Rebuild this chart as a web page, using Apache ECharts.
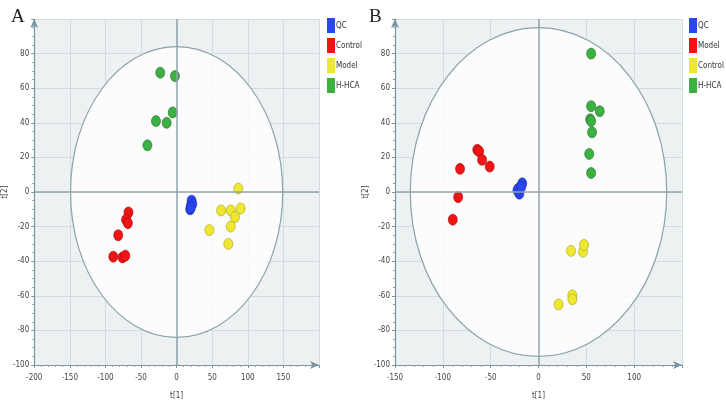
<!DOCTYPE html>
<html>
<head>
<meta charset="utf-8">
<script src="https://cdn.jsdelivr.net/npm/echarts@6/dist/echarts.min.js"></script>
<style>
  html, body { margin: 0; padding: 0; background: #fff; }
  #main { width: 726px; height: 406px; }
</style>
</head>
<body>
<div id="main"></div>
<script>
// panel A scores [t1, t2]
const qcA = [[21, -5], [20, -8], [19, -10], [22, -7], [20, -9]]
const controlA = [[-67.6, -11.8], [-71, -16], [-68.5, -18], [-82, -25], [-89, -37.4], [-76, -37.8], [-72, -36.8]]
const modelA = [[86.6, 2], [62.5, -10.7], [76, -10.7], [90, -9.5], [82, -14.5], [76, -20], [46, -22], [72.6, -30]]
const hhcaA = [[-23, 69], [-2.3, 67], [-5.5, 46], [-29, 41], [-14, 40], [-41, 27]]
// panel B scores [t1, t2]
const qcB = [[-21, 2], [-17, 5], [-20, -1], [-22, 1], [-18, 3]]
const modelB = [[-64, 24.4], [-62, 23.5], [-59, 18.6], [-51, 14.7], [-82, 13.4], [-84, -3], [-89.6, -16]]
const controlB = [[34, -34], [46.5, -34.5], [47.6, -30.6], [35.4, -59.7], [35.4, -62], [21, -65]]
const hhcaB = [[55, 80], [55, 49.6], [64, 46.7], [54, 42], [55, 41], [56, 34.5], [53, 22], [55, 11]]
// Hotelling T2 ellipse half-axes [t1, t2]
const ellipseA = [149, 84]
const ellipseB = [134, 95]

const legendA = ['QC', 'Control', 'Model', 'H-HCA']
const legendB = ['QC', 'Model', 'Control', 'H-HCA']

const colors = {
  blue: ['#2a45f0', '#1a2aa0'],
  red: ['#f01414', '#a00a0a'],
  yellow: ['#eee830', '#a8a020'],
  green: ['#3cb043', '#1f6e25']
}

const font = "'Liberation Sans Narrow', 'DejaVu Sans Condensed', 'Liberation Sans', sans-serif"

const chart = echarts.init(document.getElementById('main'))

function xAxis(idx, min, max) {
  return {
    gridIndex: idx,
    type: 'value',
    min: min,
    max: max,
    interval: 50,
    name: 't[1]',
    nameLocation: 'middle',
    nameGap: 27,
    nameTextStyle: { fontSize: 8, color: '#444', fontFamily: font },
    axisLine: {
      onZero: false,
      symbol: ['none', 'arrow'],
      symbolSize: [6, 9],
      lineStyle: { color: '#7a94a0', width: 1.2 }
    },
    axisTick: { show: true, length: 3, lineStyle: { color: '#7a94a0' } },
    minorTick: { show: true, splitNumber: 5, length: 2, lineStyle: { color: '#8aa0aa' } },
    axisLabel: { fontSize: 8, color: '#444', fontFamily: font, margin: 9, showMaxLabel: false },
    splitLine: { show: true, lineStyle: { color: '#d3dcde' } }
  }
}

function yAxis(idx) {
  return {
    gridIndex: idx,
    type: 'value',
    min: -100,
    max: 100,
    interval: 20,
    name: 't[2]',
    nameLocation: 'middle',
    nameGap: 22,
    nameRotate: 90,
    nameTextStyle: { fontSize: 8, color: '#444', fontFamily: font },
    axisLine: {
      onZero: false,
      symbol: ['none', 'arrow'],
      symbolSize: [6, 9],
      lineStyle: { color: '#7a94a0', width: 1.2 }
    },
    axisTick: { show: true, length: 3, lineStyle: { color: '#7a94a0' } },
    minorTick: { show: true, splitNumber: 4, length: 2, lineStyle: { color: '#8aa0aa' } },
    axisLabel: { fontSize: 8, color: '#444', fontFamily: font, margin: 5, showMaxLabel: false },
    splitLine: { show: true, lineStyle: { color: '#d3dcde' } }
  }
}

function ellipseSeries(idx, radii) {
  return {
    type: 'custom',
    xAxisIndex: idx,
    yAxisIndex: idx,
    z: 1,
    silent: true,
    data: [[0, 0]],
    renderItem: function (params, api) {
      const c = api.coord([0, 0])
      const s = api.size([radii[0], radii[1]])
      return {
        type: 'ellipse',
        shape: { cx: c[0], cy: c[1], rx: s[0], ry: s[1] },
        style: { fill: 'rgba(255,255,255,0.8)', stroke: '#8aa3aa', lineWidth: 1.2 }
      }
    },
    markLine: {
      silent: true,
      symbol: 'none',
      label: { show: false },
      lineStyle: { color: '#8fa5ab', width: 1.5, type: 'solid' },
      data: [{ xAxis: 0 }, { yAxis: 0 }]
    }
  }
}

function scatter(idx, name, data, c) {
  return {
    type: 'scatter',
    name: name,
    xAxisIndex: idx,
    yAxisIndex: idx,
    z: 3,
    data: data,
    symbol: 'circle',
    symbolSize: [9, 11],
    itemStyle: { color: c[0], borderColor: c[1], borderWidth: 0.6, opacity: 1 }
  }
}

function legend(left, names, cols) {
  return {
    orient: 'vertical',
    left: left,
    top: 13,
    icon: 'rect',
    itemWidth: 8,
    itemHeight: 15,
    itemGap: 5,
    selectedMode: false,
    textStyle: { fontSize: 8, color: '#333', fontFamily: font, padding: [0, 0, 0, -4] },
    data: names.map((n, i) => ({ name: n, itemStyle: { color: cols[i][0], borderWidth: 0 } }))
  }
}

const option = {
  animation: false,
  textStyle: { fontFamily: font },
  title: [
    { text: 'A', left: 6, top: 3, textStyle: { fontFamily: 'Liberation Serif, serif', fontSize: 19, fontWeight: 'normal', color: '#222' } },
    { text: 'B', left: 364, top: 3, textStyle: { fontFamily: 'Liberation Serif, serif', fontSize: 19, fontWeight: 'normal', color: '#222' } }
  ],
  legend: [
    legend(322, legendA, [colors.blue, colors.red, colors.yellow, colors.green]),
    legend(684, legendB, [colors.blue, colors.red, colors.yellow, colors.green])
  ],
  grid: [
    { left: 32, top: 19, width: 287, height: 346, show: true, backgroundColor: '#edf1f1', borderWidth: 0 },
    { left: 395, top: 19, width: 287, height: 346, show: true, backgroundColor: '#edf1f1', borderWidth: 0 }
  ],
  xAxis: [xAxis(0, -200, 200), xAxis(1, -150, 150)],
  yAxis: [yAxis(0), yAxis(1)],
  series: [
    ellipseSeries(0, ellipseA),
    scatter(0, 'QC', qcA, colors.blue),
    scatter(0, 'Control', controlA, colors.red),
    scatter(0, 'Model', modelA, colors.yellow),
    scatter(0, 'H-HCA', hhcaA, colors.green),
    ellipseSeries(1, ellipseB),
    scatter(1, 'QC', qcB, colors.blue),
    scatter(1, 'Model', modelB, colors.red),
    scatter(1, 'Control', controlB, colors.yellow),
    scatter(1, 'H-HCA', hhcaB, colors.green)
  ]
}

chart.setOption(option)
</script>
</body>
</html>
